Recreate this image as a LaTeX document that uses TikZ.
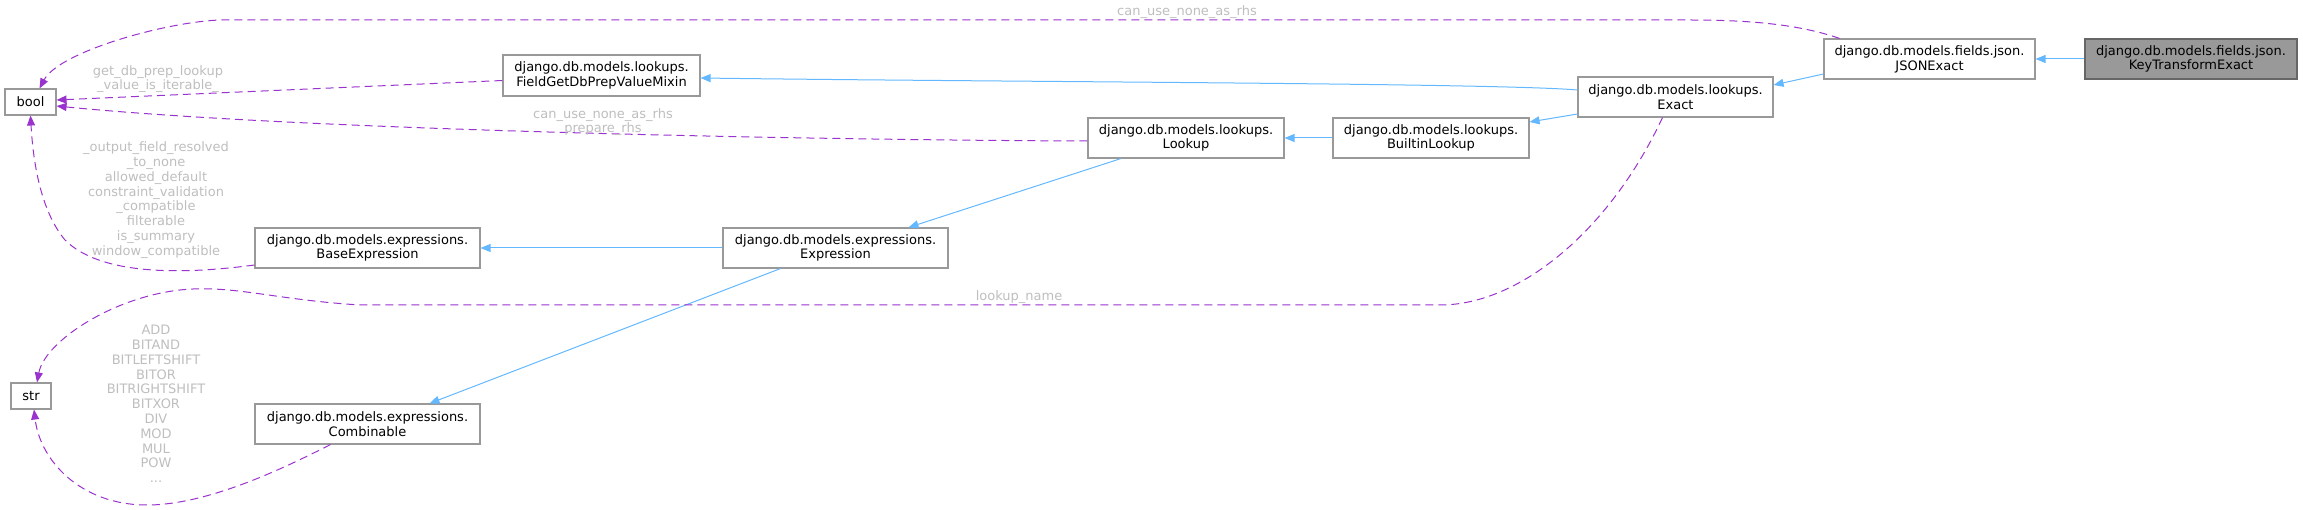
\documentclass[tikz,border=0pt]{standalone}
\usepackage{fontspec}
\setmainfont{DejaVu Sans}
\usetikzlibrary{arrows.meta}

\definecolor{edgeblue}{HTML}{63B8FF}
\definecolor{edgepurple}{HTML}{9A32CD}
\definecolor{labelgrey}{HTML}{BEBEBE}
\definecolor{boxgrey}{HTML}{999999}
\definecolor{rootgrey}{HTML}{666666}

\tikzset{
  cls/.style={draw=boxgrey, fill=white, line width=1.1pt, inner sep=0pt,
    minimum height=40pt, align=center, font=\fontsize{13}{14.8}\selectfont},
  rootcls/.style={cls, fill=boxgrey, draw=rootgrey},
  inherit/.style={-{Triangle[length=10pt,width=8pt]}, edgeblue, line width=1pt},
  uses/.style={-{Triangle[length=10pt,width=8pt]}, edgepurple, line width=1pt,
    dash pattern=on 8pt off 5pt},
  lbl/.style={text=labelgrey, align=center, inner sep=0pt,
    font=\fontsize{13}{14.8}\selectfont},
}

\begin{document}
\begin{tikzpicture}[x=1pt, y=-1pt]
        \useasboundingbox (0,0) rectangle (2303,510);

        % Classes
        \node[rootcls, minimum width=212pt] (kte) at (2191,59) {django.db.models.fields.json.\\KeyTransformExact};
        \node[cls, minimum width=211pt] (jsonexact) at (1929.5,59) {django.db.models.fields.json.\\JSONExact};
        \node[cls, minimum width=195pt] (exact) at (1675.5,97) {django.db.models.lookups.\\Exact};
        \node[cls, minimum width=196pt] (builtin) at (1431,138) {django.db.models.lookups.\\BuiltinLookup};
        \node[cls, minimum width=196pt] (lookup) at (1186,138) {django.db.models.lookups.\\Lookup};
        \node[cls, minimum width=197pt, minimum height=41pt] (fieldmixin) at (601.5,75.5) {django.db.models.lookups.\\FieldGetDbPrepValueMixin};
        \node[cls, minimum width=225pt] (expression) at (835.5,248) {django.db.models.expressions.\\Expression};
        \node[cls, minimum width=225pt] (baseexpr) at (367.5,248) {django.db.models.expressions.\\BaseExpression};
        \node[cls, minimum width=225pt] (combinable) at (367.5,424) {django.db.models.expressions.\\Combinable};

        % Builtin types
        \node[cls, minimum width=51pt, minimum height=26pt] (bool) at (30.5,102) {bool};
        \node[cls, minimum width=40pt, minimum height=26pt] (str) at (31,396) {str};

        % Inheritance (blue)
        \draw[inherit] (kte.west) -- (jsonexact.east);
        \draw[inherit] ([yshift=-15pt]jsonexact.west) -- ([yshift=12pt]exact.east);
        \draw[inherit] ([yshift=-17pt]exact.west) -- ([yshift=16pt]builtin.east);
        \draw[inherit] ([yshift=7pt]exact.west) .. controls +(-80,-7) and +(300,4) .. ([yshift=-2.5pt]fieldmixin.east);
        \draw[inherit] (builtin.west) -- (lookup.east);
        \draw[inherit] ([xshift=-65pt]lookup.south) -- ([xshift=73pt]expression.north);
        \draw[inherit] (expression.west) -- (baseexpr.east);
        \draw[inherit] ([xshift=-55pt]expression.south) -- ([xshift=62pt]combinable.north);

        % Members (purple, dashed)
        \draw[uses] ([xshift=-90pt]jsonexact.north) .. controls +(-40,-14) and +(60,0) .. (1690,20)
            -- (230,20) .. controls (180,18) and (60,50) .. ([xshift=9pt]bool.north);
        \draw[uses] ([yshift=-5pt]fieldmixin.west) -- ([yshift=2pt]bool.east);
        \draw[uses] ([yshift=-3pt]lookup.west) .. controls (800,140) and (300,130) .. ([yshift=-4pt]bool.east);
        \draw[uses] ([yshift=-17pt]baseexpr.west) .. controls (180,275) and (100,275) .. (65,240)
            .. controls (40,210) and (33,160) .. (bool.south);
        \draw[uses] ([xshift=-13pt]exact.south) .. controls (1610,230) and (1520,305) .. (1440,305)
            -- (360,305) .. controls (280,300) and (240,287) .. (193,289)
            .. controls (120,292) and (45,340) .. ([xshift=6pt]str.north);
        \draw[uses] ([xshift=-37pt]combinable.south) .. controls (290,465) and (210,505) .. (147,505)
            .. controls (80,505) and (40,460) .. ([xshift=3pt]str.south);

        % Member names
        \node[lbl] (lbltop) at (1187,12) {can\_use\_none\_as\_rhs};
        \node[lbl] (lblmixin) at (158,79) {get\_db\_prep\_lookup\\\_value\_is\_iterable\_};
        \node[lbl] (lbllookup) at (603,122) {can\_use\_none\_as\_rhs\\prepare\_rhs};
        \node[lbl] (lblbase) at (156,200) {\_output\_field\_resolved\\\_to\_none\\allowed\_default\\constraint\_validation\\\_compatible\\filterable\\is\_summary\\window\_compatible};
        \node[lbl] (lblexact) at (1019,297) {lookup\_name};
        \node[lbl] (lblcomb) at (156,404) {ADD\\BITAND\\BITLEFTSHIFT\\BITOR\\BITRIGHTSHIFT\\BITXOR\\DIV\\MOD\\MUL\\POW\\...};
    \end{tikzpicture}
\end{document}
